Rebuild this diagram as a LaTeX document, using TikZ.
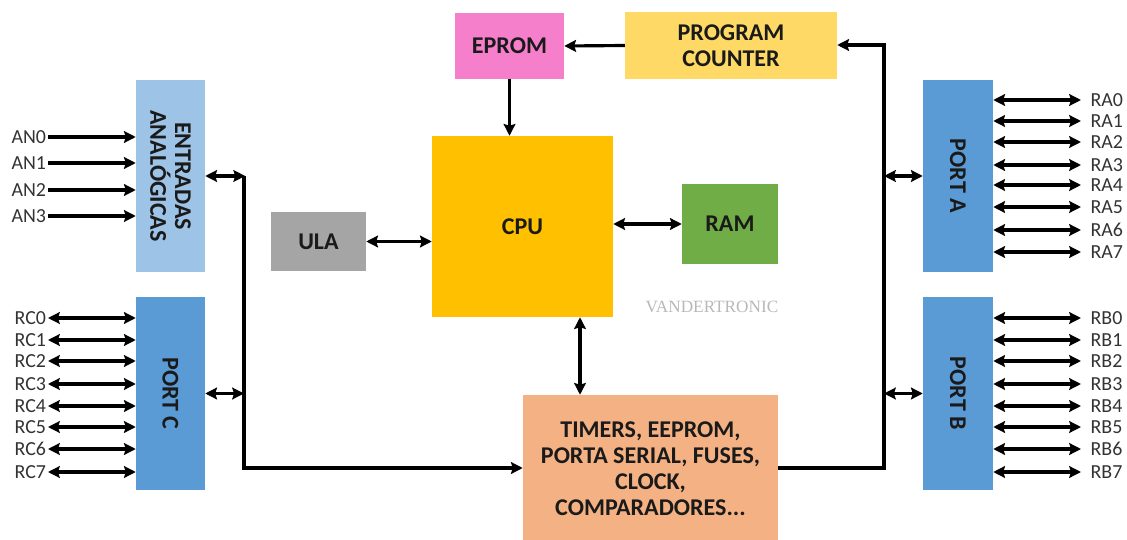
\documentclass[tikz,border=0pt]{standalone}
\usepackage{fontspec}
\setmainfont{Carlito}
\newfontfamily\wmfont{Liberation Serif}
\usetikzlibrary{fit,arrows.meta}
\definecolor{cAna}{HTML}{9DC3E6}
\definecolor{cPort}{HTML}{5B9BD5}
\definecolor{cEprom}{HTML}{F67FCB}
\definecolor{cPC}{HTML}{FFD966}
\definecolor{cCPU}{HTML}{FFC000}
\definecolor{cRAM}{HTML}{70AD47}
\definecolor{cULA}{HTML}{A5A5A5}
\definecolor{cTim}{HTML}{F4B183}
\definecolor{cTxt}{HTML}{1A1A1A}
\definecolor{cPin}{HTML}{333333}
\tikzset{
  blk/.style={fill=#1, inner sep=0pt, align=center, text=cTxt,
    font=\fontsize{20.5}{22}\selectfont\bfseries},
  rotlbl/.style={rotate=-90, align=center, text=cTxt,
    font=\fontsize{20.5}{21}\selectfont\bfseries},
  pinlbl/.style={inner sep=1.5pt, text=cPin, font=\fontsize{17}{19}\selectfont},
  rpinlbl/.style={pinlbl, inner xsep=8pt},
  wire/.style={line width=2.7pt, black},
  tip/.tip={Stealth[length=10pt,width=10pt,inset=1.5pt]},
  one/.style={wire,-tip},
  two/.style={wire,tip-tip},
}
\begin{document}
\begin{tikzpicture}[x=0.03cm,y=-0.03cm]
\useasboundingbox (0,0) rectangle (1127,540);
% blocks
\node[blk=cAna, fit={(136,80)(205,272)}] (ent) {};
\node[rotlbl] at (ent.center) {ENTRADAS\\ANALÓGICAS};
\node[blk=cPort, fit={(136,297)(205,490)}] (pc3) {};
\node[rotlbl] at (pc3.center) {PORT C};
\node[blk=cPort, fit={(923,80)(993,272)}] (pa) {};
\node[rotlbl] at (pa.center) {PORT A};
\node[blk=cPort, fit={(923,297)(993,490)}] (pb) {};
\node[rotlbl] at (pb.center) {PORT B};
\node[blk=cEprom, fit={(455,13)(564,79)}] (eprom) {};
\node[blk=cEprom, fill=none] at (eprom.center) {EPROM};
\node[blk=cPC, fit={(625,12)(837,79)}] (pcnt) {};
\node[blk=cPC, fill=none] at (pcnt.center) {PROGRAM\\COUNTER};
\node[blk=cCPU, fit={(432,136)(613,317)}] (cpu) {};
\node[blk=cCPU, fill=none] at (cpu.center) {CPU};
\node[blk=cRAM, fit={(682,184)(778,264)}] (ram) {};
\node[blk=cRAM, fill=none] at (ram.center) {RAM};
\node[blk=cULA, fit={(271,212)(366,271)}] (ula) {};
\node[blk=cULA, fill=none] at (ula.center) {ULA};
\node[blk=cTim, fit={(523,395)(778,540)}] (tim) {};
\node[blk=cTim, fill=none] at ([yshift=-1pt]tim.center) {TIMERS, EEPROM,\\PORTA SERIAL, FUSES,\\CLOCK,\\COMPARADORES...};
% watermark
\node[text=black!28, font=\wmfont\fontsize{14.7}{16}\selectfont] (wm) at (712,307) {VANDERTRONIC};
% internal connectors
\draw[one] (pcnt.west) -- (eprom.east);
\draw[one] (eprom.south) -- (eprom.south |- cpu.north);
\draw[two] (ula.east) -- (ula.east -| cpu.west);
\draw[two] (ram.west -| cpu.east) -- (ram.west);
\coordinate (ct) at (580,0);
\draw[two] (cpu.south -| ct) -- (tim.north -| ct);
% buses
\coordinate (rtop) at (884,45);
\coordinate (rbot) at (884,468);
\coordinate (ltop) at (244,176);
\coordinate (lbot) at (244,468);
\draw[wire, -tip] (tim.east |- rbot) -- (rbot) -- (rtop) -- (pcnt.east |- rtop);
\draw[wire, -tip] (ltop) -- (lbot) -- (tim.west |- lbot);
\draw[two] (ent.east |- ltop) -- ([xshift=1pt]ltop);
\draw[two] (pc3.east) -- (pc3.east -| ltop);
\draw[two] (pa.west -| rtop) -- (pa.west);
\draw[two] (pb.west -| rtop) -- (pb.west);
% analog inputs
\foreach \i/\y in {0/137,1/163,2/190,3/216}{
  \node[pinlbl, anchor=east] (an\i) at (48,\y) {AN\i};
  \draw[one] (an\i.east) -- (an\i.east -| ent.west);
}
% port C pins
\foreach \i/\y in {0/318,1/340,2/361,3/384,4/406,5/427,6/449,7/472}{
  \node[pinlbl, anchor=east] (rc\i) at (48,\y) {RC\i};
  \draw[two] (rc\i.east) -- (rc\i.east -| pc3.west);
}
% port A pins
\foreach \i/\y in {0/100,1/121,2/142,3/165,4/185,5/207,6/230,7/252}{
  \node[rpinlbl, anchor=west] (ra\i) at (1081,\y) {RA\i};
  \draw[two] (ra\i.west -| pa.east) -- (ra\i.west);
}
% port B pins
\foreach \i/\y in {0/318,1/340,2/361,3/384,4/406,5/427,6/449,7/472}{
  \node[rpinlbl, anchor=west] (rb\i) at (1081,\y) {RB\i};
  \draw[two] (rb\i.west -| pb.east) -- (rb\i.west);
}
\end{tikzpicture}
\end{document}
